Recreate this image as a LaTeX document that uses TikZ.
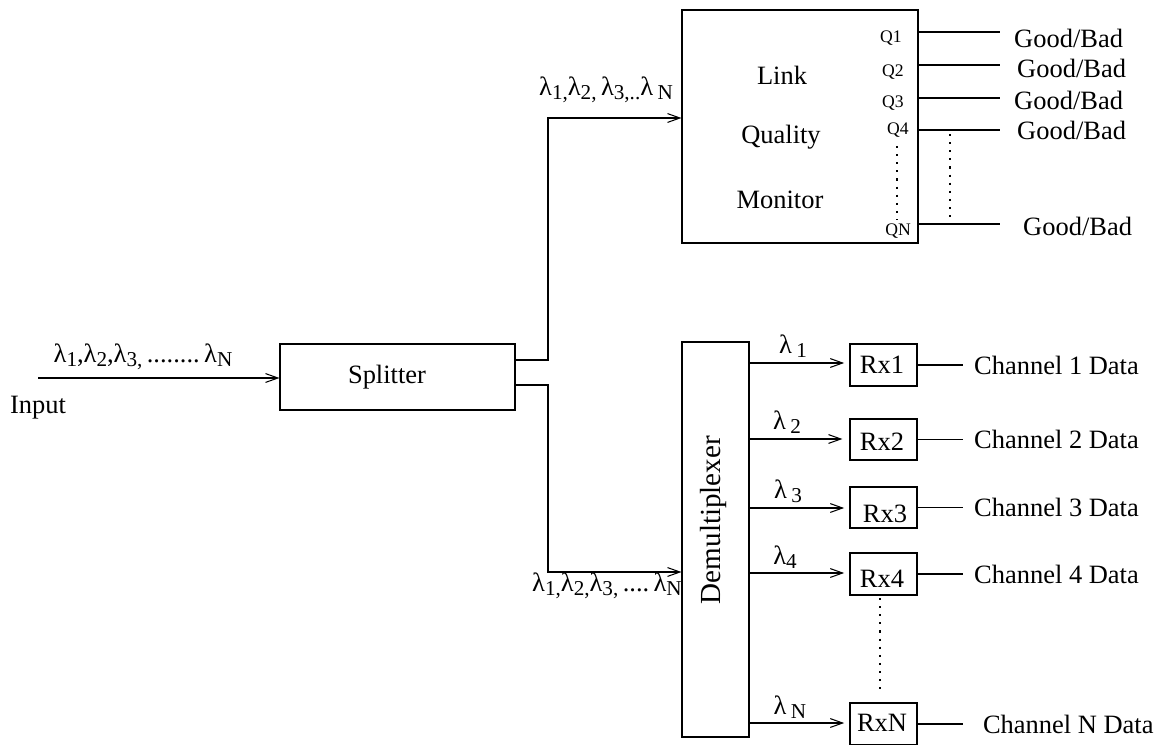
\documentclass[tikz,border=0pt]{standalone}
\usepackage{fontspec}
\setmainfont{Liberation Serif}
\usetikzlibrary{arrows.meta}
\newcommand{\sub}[1]{\raisebox{-0.35ex}{\fontsize{12}{12}\selectfont #1}}
\begin{document}
\begin{tikzpicture}[x=0.5669pt,y=-0.5669pt,
  every node/.style={font=\fontsize{15}{18}\selectfont},
  box/.style={draw, line width=0.6pt, inner sep=0pt},
  arr/.style={line width=0.6pt, -{Straight Barb[length=7pt,width=5pt]}},
  wide/.style={line width=1.3pt, -{Straight Barb[length=7pt,width=5pt,line width=0.6pt]}},
  ln/.style={line width=0.6pt},
  dots/.style={line width=0.9pt, dash pattern=on 1.2pt off 3.4pt},
  qlab/.style={font=\fontsize{10}{12}\selectfont},
  lab/.style={font=\fontsize{15}{18}\selectfont, anchor=west}]
\useasboundingbox (0,0) rectangle (1161,745);

% boxes
\node[box, minimum width=235*0.5669pt, minimum height=66*0.5669pt] (spl) at (397.5,377) {};
\node (splt) at (387,377) {Splitter};
\node[box, minimum width=236*0.5669pt, minimum height=233*0.5669pt] (lqm) at (800,126.5) {};
\node[box, minimum width=67*0.5669pt, minimum height=395*0.5669pt] (dmx) at (715.5,539.5) {};
\node[rotate=90, font=\fontsize{16.5}{18}\selectfont] (dmxt) at (713,520) {Demultiplexer};
\node (link) at (782,75) {Link};
\node (qual) at (781,137) {Quality};
\node (mon) at (780,200) {Monitor};

\node[box, minimum width=67*0.5669pt, minimum height=42*0.5669pt] (rx1) at (883.5,365) {};
\node (rx1t) at (882,365) {Rx1};
\node[box, minimum width=67*0.5669pt, minimum height=41*0.5669pt] (rx2) at (883.5,439.5) {};
\node (rx2t) at (882,442) {Rx2};
\node[box, minimum width=67*0.5669pt, minimum height=41*0.5669pt] (rx3) at (883.5,507.5) {};
\node (rx3t) at (885,514) {Rx3};
\node[box, minimum width=67*0.5669pt, minimum height=42*0.5669pt] (rx4) at (883.5,574) {};
\node (rx4t) at (882,579) {Rx4};
\node[box, minimum width=67*0.5669pt, minimum height=42*0.5669pt] (rxn) at (883.5,724) {};
\node (rxnt) at (882,723) {RxN};

% input
\coordinate (in) at (38,378);
\draw[arr] (in) -- (spl.west |- in);
\node (inlab) at (143,357) {λ\sub{1},λ\sub{2},λ\sub{3,}\,........\,λ\sub{N}};
\node (input) at (38,408) {Input};

% splitter outputs
\coordinate (up) at (548,360);
\coordinate (dn) at (548,385);
\draw[wide] (spl.east |- up) -- (up) |- (lqm.west |- 0,118);
\draw[wide] (spl.east |- dn) -- (dn) |- (dmx.west |- 0,572);
\node (uplab) at (606,90) {λ\sub{1,}λ\sub{2,}\,λ\sub{3,..}λ\,\sub{N}};
\node (dnlab) at (607,586) {λ\sub{1,}λ\sub{2,}λ\sub{3,}\,....\,λ\sub{N}};

% Q outputs
\node[qlab] (q1) at (891,38) {Q1};
\node[qlab] (q2) at (893,72) {Q2};
\node[qlab] (q3) at (893,103) {Q3};
\node[qlab] (q4) at (898,130) {Q4};
\node[qlab] (qn) at (898,231) {QN};
\node[lab] (g1) at (1008,38) {Good/Bad};
\node[lab] (g2) at (1011,68) {Good/Bad};
\node[lab] (g3) at (1008,100) {Good/Bad};
\node[lab] (g4) at (1011,130) {Good/Bad};
\node[lab] (gn) at (1017,226) {Good/Bad};
\draw[ln] (lqm.east |- 0,32) -- (1000,32);
\draw[ln] (lqm.east |- 0,65) -- (1000,65);
\draw[ln] (lqm.east |- 0,98) -- (1000,98);
\draw[ln] (lqm.east |- 0,130) -- (1000,130);
\draw[ln] (lqm.east |- 0,224) -- (1000,224);
\draw[dots] (897,146) -- (897,220);
\draw[dots] (950,134) -- (950,220);

% demux outputs
\draw[arr, shorten >=3pt] (dmx.east |- 0,363) -- (rx1.west |- 0,363);
\draw[arr, shorten >=4pt] (dmx.east |- 0,439) -- (rx2.west |- 0,439);
\draw[arr, shorten >=3pt] (dmx.east |- 0,508) -- (rx3.west |- 0,508);
\draw[arr, shorten >=3pt] (dmx.east |- 0,573) -- (rx4.west |- 0,573);
\draw[arr, shorten >=3pt] (dmx.east |- 0,723) -- (rxn.west |- 0,723);
\node (l1) at (793,346) {λ\,\sub{1}};
\node (l2) at (787,422) {λ\,\sub{2}};
\node (l3) at (788,491) {λ\,\sub{3}};
\node (l4) at (785,557) {λ\sub{4}};
\node (ln) at (790,707) {λ\,\sub{N}};
\draw[dots] (880,598) -- (880,692);

% channel data
\draw[ln] (rx1.east) -- ++(45,0) node[lab, right=3pt] (c1) {Channel 1 Data};
\draw[ln] (rx2.east) -- ++(45,0) node[lab, right=3pt] (c2) {Channel 2 Data};
\draw[ln] (rx3.east) -- ++(45,0) node[lab, right=3pt] (c3) {Channel 3 Data};
\draw[ln] (rx4.east) -- ++(45,0) node[lab, right=3pt] (c4) {Channel 4 Data};
\draw[ln] (rxn.east |- 0,724) -- ++(45,0) node[lab, right=8pt] (cn) {Channel N Data};
\end{tikzpicture}
\end{document}
